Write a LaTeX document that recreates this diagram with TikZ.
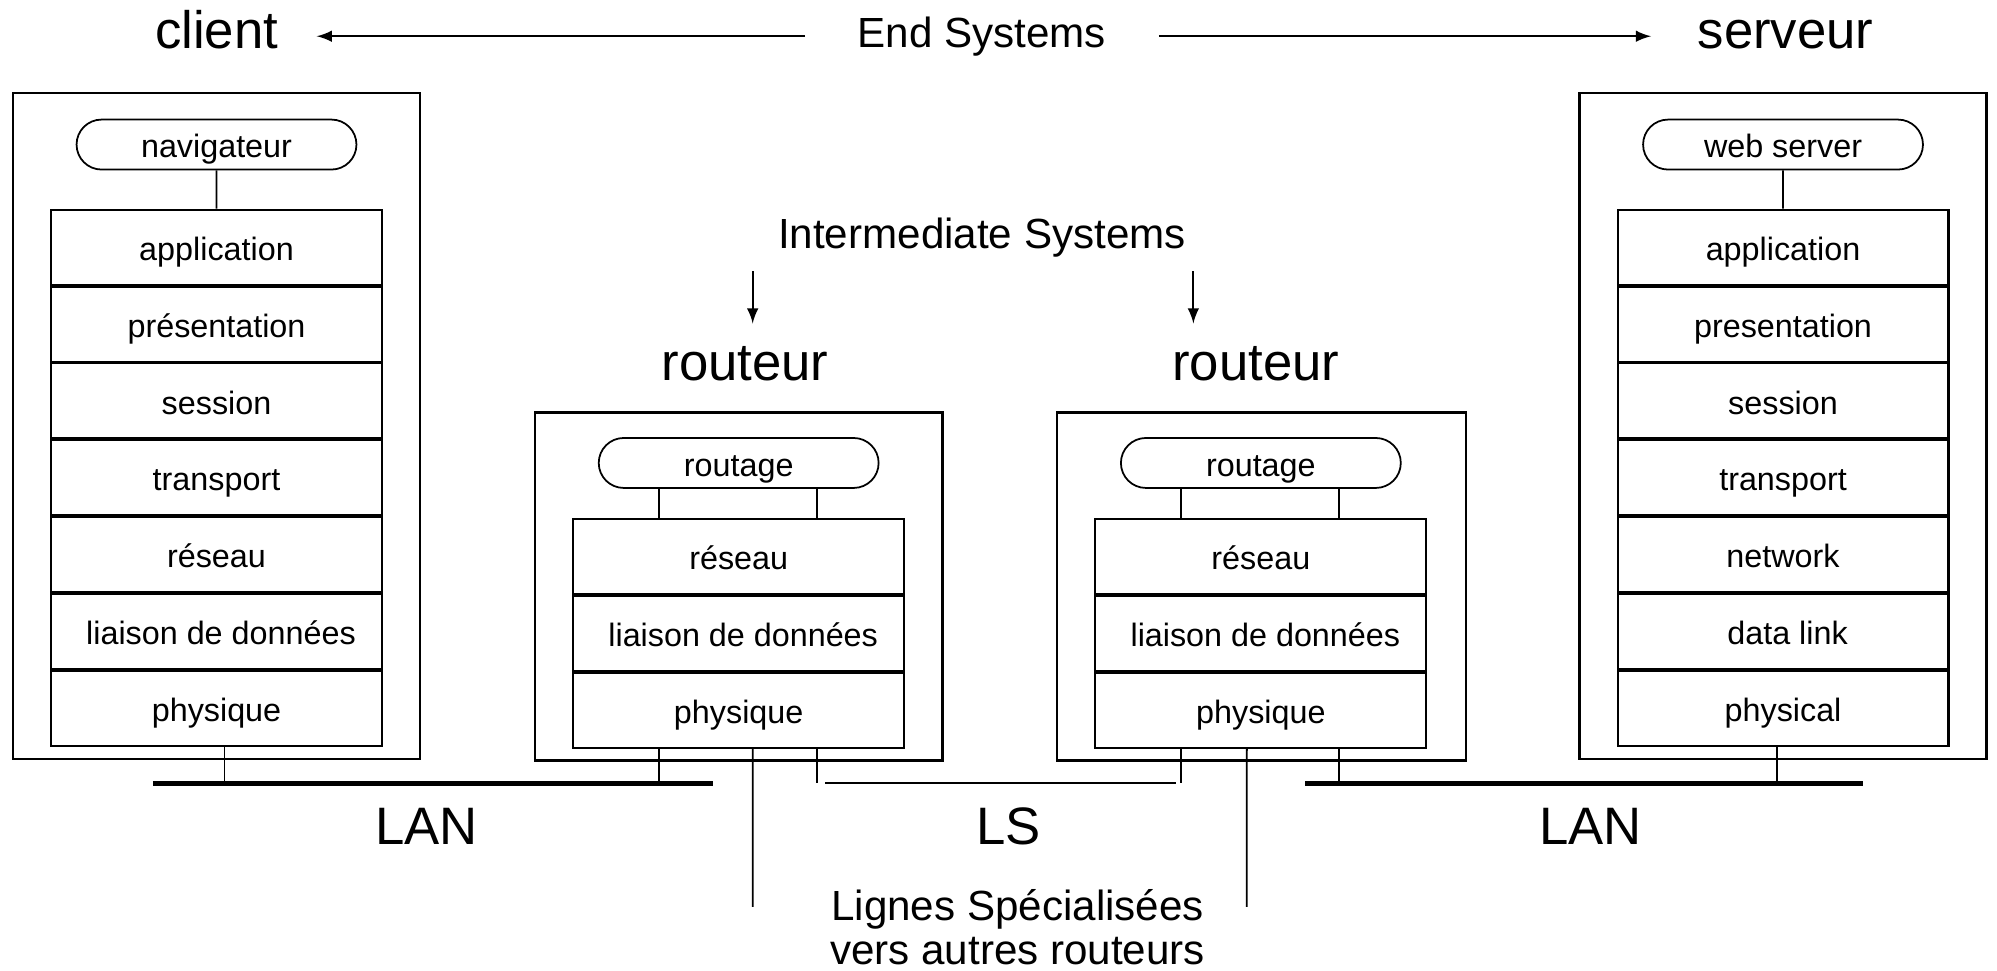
\documentclass[tikz,border=0pt]{standalone}
\usepackage{fontspec}
\setmainfont{Liberation Sans}
\usetikzlibrary{shapes.misc}

\tikzset{
  layer/.style={draw, line width=0.6pt, minimum width=3.31cm, minimum height=0.752cm,
    inner sep=0pt, text height=0.85em, text depth=0.1em, font=\fontsize{9.2}{11}\selectfont},
  app/.style={draw, rounded rectangle, line width=0.5pt, minimum width=2.8cm,
    minimum height=0.5cm, inner sep=0pt, text height=0.85em, text depth=0.1em,
    font=\fontsize{9.2}{11}\selectfont},
  station/.style={draw, line width=0.7pt, inner sep=0pt},
  biglabel/.style={inner sep=0pt, anchor=base, font=\fontsize{15}{17}\selectfont},
  midlabel/.style={inner sep=0pt, anchor=base, font=\fontsize{12}{14}\selectfont},
  lan/.style={line width=1.4pt},
  wire/.style={line width=0.5pt},
}

\begin{document}
\begin{tikzpicture}[x=0.012736cm, y=-0.012736cm, >=latex]
  \useasboundingbox (0,0) rectangle (1568,762);

  % end systems
  \node[station, minimum width=4.075cm, minimum height=6.661cm] (cbox) at (170,334.5) {};
  \node[station, minimum width=4.075cm, minimum height=6.661cm] (sbox) at (1400,334.5) {};
  \node[app] (cpill) at (170,113.5) {navigateur};
  \node[app] (spill) at (1400,113.5) {web server};
  \foreach \t [count=\i] in {application,présentation,session,transport,réseau,\ liaison de données,physique}
    \node[layer] (c\i) at (170,164+60.3*\i-30.15) {\t};
  \foreach \t [count=\i] in {application,presentation,session,transport,network,\ data link,physical}
    \node[layer] (s\i) at (1400,164+60.3*\i-30.15) {\t};
  \draw[wire] (cpill) -- (c1);
  \draw[wire] (spill) -- (s1);

  % routers
  \node[station, minimum width=4.075cm, minimum height=3.477cm] (rAbox) at (580,460.5) {};
  \node[station, minimum width=4.088cm, minimum height=3.477cm] (rBbox) at (990.5,460.5) {};
  \node[app] (rApill) at (580,363.5) {routage};
  \node[app] (rBpill) at (990,363.5) {routage};
  \foreach \t [count=\i] in {réseau,\ liaison de données,physique} {
    \node[layer] (rA\i) at (580,407+60.3*\i-30.15) {\t};
    \node[layer] (rB\i) at (990,407+60.3*\i-30.15) {\t};
  }
  \draw[wire] ([xshift=-0.8cm]rApill.south) -- ([xshift=-0.8cm]rA1.north);
  \draw[wire] ([xshift=0.78cm]rApill.south) -- ([xshift=0.78cm]rA1.north);
  \draw[wire] ([xshift=-0.8cm]rBpill.south) -- ([xshift=-0.8cm]rB1.north);
  \draw[wire] ([xshift=0.78cm]rBpill.south) -- ([xshift=0.78cm]rB1.north);

  % lines
  \coordinate (lanA-w) at (120,615);
  \coordinate (lanA-e) at (560,615);
  \coordinate (lanB-w) at (1025,615);
  \coordinate (lanB-e) at (1463,615);
  \coordinate (ls-w) at (648,615);
  \coordinate (ls-e) at (923,615);
  \coordinate (lsA) at (591,712);
  \coordinate (lsB) at (979,712);
  \draw[lan] (lanA-w) -- (lanA-e);
  \draw[lan] (lanB-w) -- (lanB-e);
  \draw[wire] (ls-w) -- (ls-e);

  \draw[wire] ([xshift=0.08cm]c7.south) -- ([xshift=0.08cm]c7.south |- lanA-w);
  \draw[wire] ([xshift=-0.06cm]s7.south) -- ([xshift=-0.06cm]s7.south |- lanB-w);
  \draw[wire] ([xshift=-0.8cm]rA3.south) -- ([xshift=-0.8cm]rA3.south |- lanA-w);
  \draw[wire] ([xshift=0.14cm]rA3.south) -- (lsA);
  \draw[wire] ([xshift=0.78cm]rA3.south) -- ([xshift=0.78cm]rA3.south |- ls-w);
  \draw[wire] ([xshift=-0.8cm]rB3.south) -- ([xshift=-0.8cm]rB3.south |- ls-e);
  \draw[wire] ([xshift=-0.14cm]rB3.south) -- (lsB);
  \draw[wire] ([xshift=0.78cm]rB3.south) -- ([xshift=0.78cm]rB3.south |- lanB-e);

  % labels
  \node[biglabel] (cl) at (170,38) {client};
  \node[biglabel] (sv) at (1402,38) {serveur};
  \node[midlabel] (es) at (771,37) {End Systems};
  \draw[wire, ->, shorten <=0.52cm, shorten >=0.38cm] (es.west) -- (es.west -| cl.east);
  \draw[wire, ->, shorten <=0.52cm, shorten >=0.46cm] (es.east) -- (es.east -| sv.west);

  \node[midlabel] (is) at (771,195) {Intermediate Systems};
  \coordinate (isA) at (591,213);
  \coordinate (isB) at (937,213);
  \node[biglabel] (rtA) at (585,299) {routeur};
  \node[biglabel] (rtB) at (986,299) {routeur};
  \draw[wire, ->] (isA) -- (isA |- 0,254);
  \draw[wire, ->] (isB) -- (isB |- 0,254);

  \node[biglabel] (lanA) at (335,663) {LAN};
  \node[biglabel] (ls) at (792,663) {LS};
  \node[biglabel] (lanB) at (1249,663) {LAN};
  \node[align=center, inner sep=0pt, font=\fontsize{12}{12.4}\selectfont] (lsl) at (799,728)
    {Lignes Spécialisées\\vers autres routeurs};
\end{tikzpicture}
\end{document}
